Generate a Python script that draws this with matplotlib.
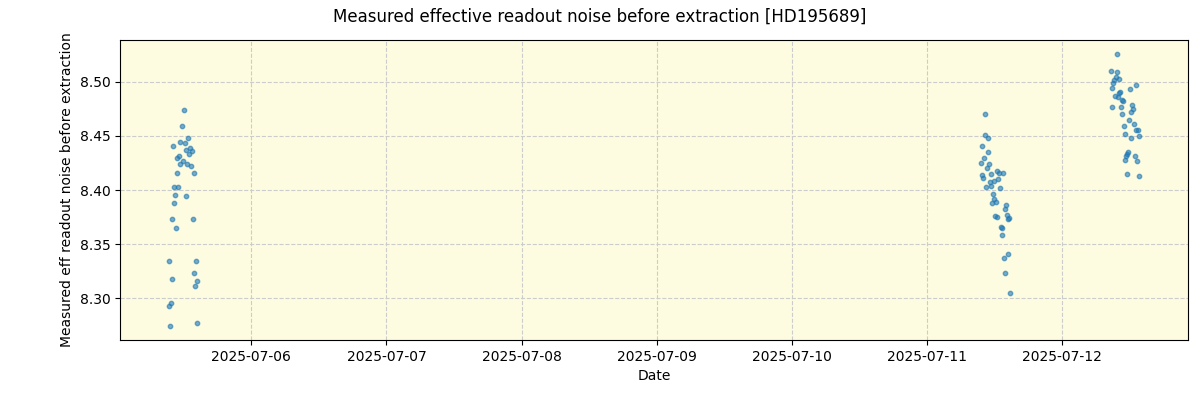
"""
Ruido de lectura efectivo medido antes de la extracción, HD195689.
Tres noches de observación; valores leídos a ojo del gráfico original.
"""

from datetime import datetime, timedelta

import matplotlib
matplotlib.use("Agg")
import matplotlib.dates as mdates
import matplotlib.pyplot as plt

TITULO = "Measured effective readout noise before extraction [HD195689]"

# noche 1 (2025-07-05): horas desde medianoche, ruido
noche1_fecha = datetime(2025, 7, 5)
noche1_horas = [11.96, 11.61, 12.75, 10.01, 11.25, 12.14, 13.16, 13.39, 12.32, 12.98,
                10.72, 11.08, 11.79, 11.38, 12.50, 13.21, 10.72, 13.74, 10.19, 10.90,
                10.36, 12.32, 10.19, 9.83, 13.56, 10.54, 9.30, 14.10, 9.83, 13.74,
                14.28, 13.92, 9.65, 9.30, 9.48, 14.28]
noche1_ruido = [8.474, 8.459, 8.448, 8.441, 8.444, 8.443, 8.439, 8.436, 8.437, 8.433,
                8.430, 8.431, 8.427, 8.424, 8.424, 8.422, 8.416, 8.416, 8.403, 8.403,
                8.395, 8.394, 8.388, 8.373, 8.373, 8.365, 8.334, 8.334, 8.318, 8.323,
                8.316, 8.311, 8.296, 8.293, 8.274, 8.277]

# noche 2 (2025-07-11)
noche2_fecha = datetime(2025, 7, 11)
noche2_horas = [10.36, 10.36, 10.90, 9.83, 10.90, 10.19, 9.65, 11.08, 10.72, 12.50,
                13.56, 12.85, 9.83, 11.43, 10.01, 12.68, 11.96, 11.25, 11.43, 10.54,
                13.03, 11.79, 11.96, 12.32, 11.61, 14.10, 13.92, 12.14, 12.50, 14.28,
                14.63, 14.45, 13.21, 13.39, 13.39, 14.45, 13.74, 13.92, 14.81]
noche2_ruido = [8.470, 8.451, 8.448, 8.441, 8.435, 8.430, 8.425, 8.424, 8.420, 8.418,
                8.416, 8.416, 8.414, 8.415, 8.411, 8.410, 8.408, 8.407, 8.404, 8.403,
                8.402, 8.396, 8.392, 8.389, 8.388, 8.386, 8.382, 8.376, 8.375, 8.377,
                8.374, 8.373, 8.366, 8.365, 8.358, 8.341, 8.337, 8.323, 8.305]

# noche 3 (2025-07-12)
noche3_fecha = datetime(2025, 7, 12)
noche3_horas = [9.83, 8.76, 9.83, 9.65, 10.19, 9.30, 9.12, 8.94, 13.21, 12.14,
                10.36, 10.19, 9.48, 10.01, 10.72, 10.90, 12.50, 12.68, 8.94, 10.54,
                12.32, 10.72, 11.96, 12.85, 11.08, 13.21, 13.56, 11.25, 12.32, 13.74,
                11.73, 11.61, 13.03, 11.43, 11.25, 13.39, 11.61, 13.74]
noche3_ruido = [8.526, 8.510, 8.509, 8.504, 8.503, 8.502, 8.499, 8.494, 8.497, 8.493,
                8.491, 8.490, 8.487, 8.486, 8.483, 8.482, 8.479, 8.475, 8.477, 8.477,
                8.472, 8.470, 8.465, 8.461, 8.459, 8.455, 8.455, 8.452, 8.448, 8.450,
                8.435, 8.433, 8.431, 8.431, 8.428, 8.427, 8.415, 8.413]


def a_fechas(base, horas):
    return [base + timedelta(hours=h) for h in horas]


def main() -> None:
    fechas = (a_fechas(noche1_fecha, noche1_horas)
              + a_fechas(noche2_fecha, noche2_horas)
              + a_fechas(noche3_fecha, noche3_horas))
    ruido = noche1_ruido + noche2_ruido + noche3_ruido

    fig, ax = plt.subplots(figsize=(12, 4), dpi=100)
    fig.subplots_adjust(left=0.1, right=0.99, top=0.9, bottom=0.15)
    ax.set_facecolor("#fdfce0")
    ax.scatter(fechas, ruido, s=10, color="tab:blue", alpha=0.6, zorder=3)
    ax.grid(True, linestyle="--", color="#cccccc", linewidth=0.8)
    ax.set_axisbelow(True)

    ax.xaxis.set_major_locator(mdates.DayLocator())
    ax.xaxis.set_major_formatter(mdates.DateFormatter("%Y-%m-%d"))
    ax.set_xlabel("Date")
    ax.set_ylabel("Measured eff readout noise before extraction")
    fig.suptitle(TITULO, fontsize=12)

    fig.savefig("out.png", dpi=100)
    plt.close(fig)


if __name__ == "__main__":
    main()
